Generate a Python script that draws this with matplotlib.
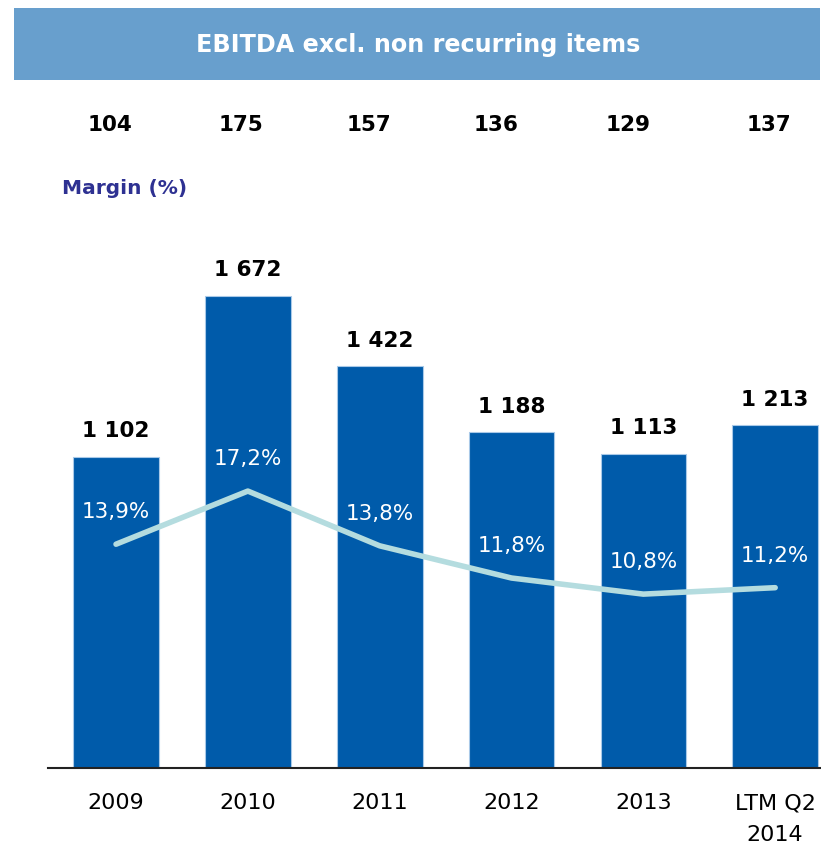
import matplotlib
matplotlib.use("Agg")
import matplotlib.pyplot as plt
import matplotlib.transforms as mtransforms
from matplotlib.patches import Rectangle

categories = ["2009", "2010", "2011", "2012", "2013", "LTM Q2\n2014"]
ebitda = [1102, 1672, 1422, 1188, 1113, 1213]
ebitda_labels = ["1 102", "1 672", "1 422", "1 188", "1 113", "1 213"]
margin = [13.9, 17.2, 13.8, 11.8, 10.8, 11.2]
margin_labels = ["13,9%", "17,2%", "13,8%", "11,8%", "10,8%", "11,2%"]
top_values = ["104", "175", "157", "136", "129", "137"]
title = "EBITDA excl. non recurring items"

# layout: horizontal pixel offsets of the top row relative to bar centres
top_offsets_px = [-6, -7, -11, -16, -15, -6]

W, H = 821, 849
fig = plt.figure(figsize=(W / 100, H / 100), dpi=100)
plt.rcParams['font.family'] = ['DejaVu Sans']

# banner
fig.patches.append(Rectangle((14 / W, 1 - 80 / H), (820 - 14) / W, 72 / H,
                             transform=fig.transFigure, facecolor='#689FCD',
                             edgecolor='none', zorder=0))
fig.text(418 / W, 1 - 45 / H, title, color='white', fontsize=17.2,
         fontweight='bold', ha='center', va='center')

ax = fig.add_axes([48 / W, 81 / H, 772 / W, (768 - 230) / H])
x = list(range(len(categories)))
ax.bar(x, ebitda, width=0.65, color='#005BAA', edgecolor='#A9C9E8',
       linewidth=0.8, zorder=2)
ax.set_xlim(-0.516, 5.34)
ax.set_ylim(0, 538 / 0.2825)

for xi, v, lab in zip(x, ebitda, ebitda_labels):
    ax.annotate(lab, (xi, v), xytext=(0, 18.5), textcoords='offset points',
                ha='center', va='center', fontsize=15.5, fontweight='bold',
                color='black')

for s in ['top', 'left', 'right']:
    ax.spines[s].set_visible(False)
ax.spines['bottom'].set_color('#222222')
ax.spines['bottom'].set_linewidth(1.5)
ax.set_yticks([])
ax.set_xticks(x)
ax.set_xticklabels(categories, fontsize=16, linespacing=1.75)
ax.tick_params(axis='x', length=0, pad=18)

ax2 = ax.twinx()
ax2.set_ylim(0, 538 / 16.1)
ax2.plot(x, margin, color='#B4DCDF', linewidth=4, solid_capstyle='round',
         zorder=3)
for xi, v, lab in zip(x, margin, margin_labels):
    ax2.annotate(lab, (xi, v), xytext=(0, 23), textcoords='offset points',
                 ha='center', va='center', fontsize=15.5, color='white')
ax2.set_yticks([])
for s in ['top', 'left', 'right', 'bottom']:
    ax2.spines[s].set_visible(False)

trans = mtransforms.blended_transform_factory(ax.transData, fig.transFigure)
for xi, t, off in zip(x, top_values, top_offsets_px):
    ax.annotate(t, (xi, 1 - 125 / H), xycoords=trans,
                xytext=(off * 0.72, 0), textcoords='offset points',
                ha='center', va='center', fontsize=15.5, fontweight='bold',
                color='black')

fig.text(62 / W, 1 - 188 / H, "Margin (%)", ha='left', va='center',
         fontsize=14.5, fontweight='bold', color='#2E3192')

fig.savefig("out.png", dpi=100)
